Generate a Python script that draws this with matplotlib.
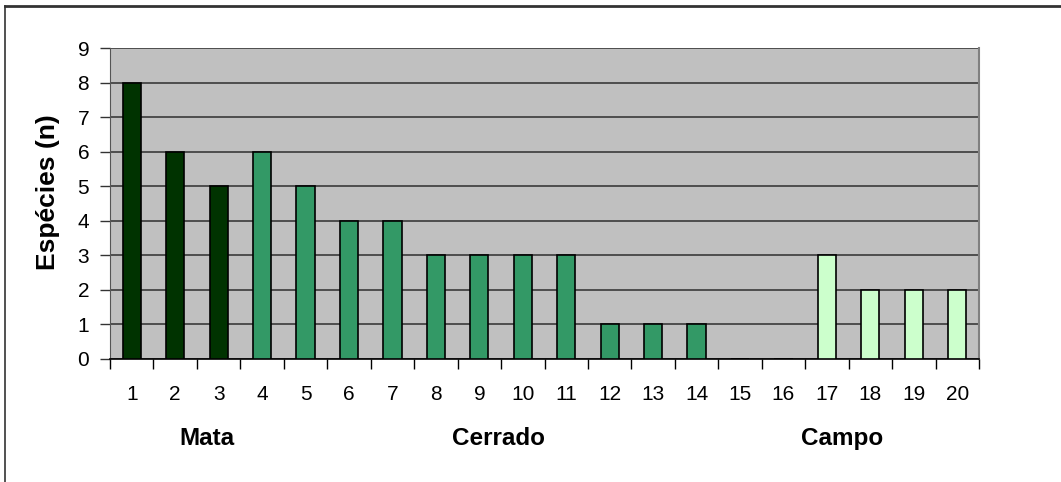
import matplotlib
matplotlib.use("Agg")
import matplotlib.pyplot as plt
from matplotlib.lines import Line2D

plt.rcParams['font.family'] = ['Liberation Sans', 'DejaVu Sans']

categories = list(range(1, 21))
values = [8, 6, 5, 6, 5, 4, 4, 3, 3, 3, 3, 1, 1, 1, 0, 0, 3, 2, 2, 2]
groups = ['Mata'] * 3 + ['Cerrado'] * 13 + ['Campo'] * 4
group_colors = {'Mata': '#003300', 'Cerrado': '#339966', 'Campo': '#CCFFCC'}
group_labels = ['Mata', 'Cerrado', 'Campo']
group_label_x = [2.74, 9.43, 17.35]
y_ticks = list(range(0, 10))

fig = plt.figure(figsize=(10.61, 4.82), dpi=100)
ax = fig.add_axes([110/1061, 1-359/482, (979-110)/1061, (359-48)/482])
ax.set_facecolor('#C0C0C0')

colors = [group_colors[g] for g in groups]
ax.bar(categories, values, width=0.42, color=colors, edgecolor='black', linewidth=1.2, zorder=3)

ax.set_xlim(0.5, 20.5)
ax.set_ylim(0, 9)
ax.set_yticks(y_ticks)
ax.set_yticklabels([str(t) for t in y_ticks], fontsize=15)
for t in y_ticks:
    ax.axhline(t, color='#3a3a3a', linewidth=1.2, zorder=1)

ax.set_xticks([c + 0.5 for c in [0] + categories])
ax.set_xticklabels([])
ax.set_xticks(categories, minor=True)
ax.set_xticklabels([str(c) for c in categories], minor=True, fontsize=15)
ax.tick_params(axis='x', which='major', direction='out', length=7, width=1, color='black')
ax.tick_params(axis='x', which='minor', length=0, pad=19)
ax.tick_params(axis='y', direction='out', length=7, width=1, color='#333333', pad=8)

ax.spines['top'].set_visible(False)
ax.spines['right'].set_color('#808080')
ax.spines['right'].set_linewidth(1.5)
ax.spines['left'].set_color('#555555')
ax.spines['bottom'].set_color('black')
ax.spines['bottom'].set_linewidth(1.2)

for lbl, gx in zip(group_labels, group_label_x):
    ax.text(gx, -2.29, lbl, ha='center', va='center', fontsize=17.5, fontweight='bold',
            transform=ax.transData, clip_on=False)

fig.text(48/1061, 1-192/482, 'Espécies (n)', rotation=90, ha='center', va='center',
         fontsize=19, fontweight='bold')

fig.add_artist(Line2D([5/1061, 1], [1-6/482, 1-6/482], color='#333333', linewidth=2, transform=fig.transFigure))
fig.add_artist(Line2D([5/1061, 5/1061], [0, 1-6/482], color='#333333', linewidth=1.2, transform=fig.transFigure))

fig.savefig('out.png', dpi=100)
